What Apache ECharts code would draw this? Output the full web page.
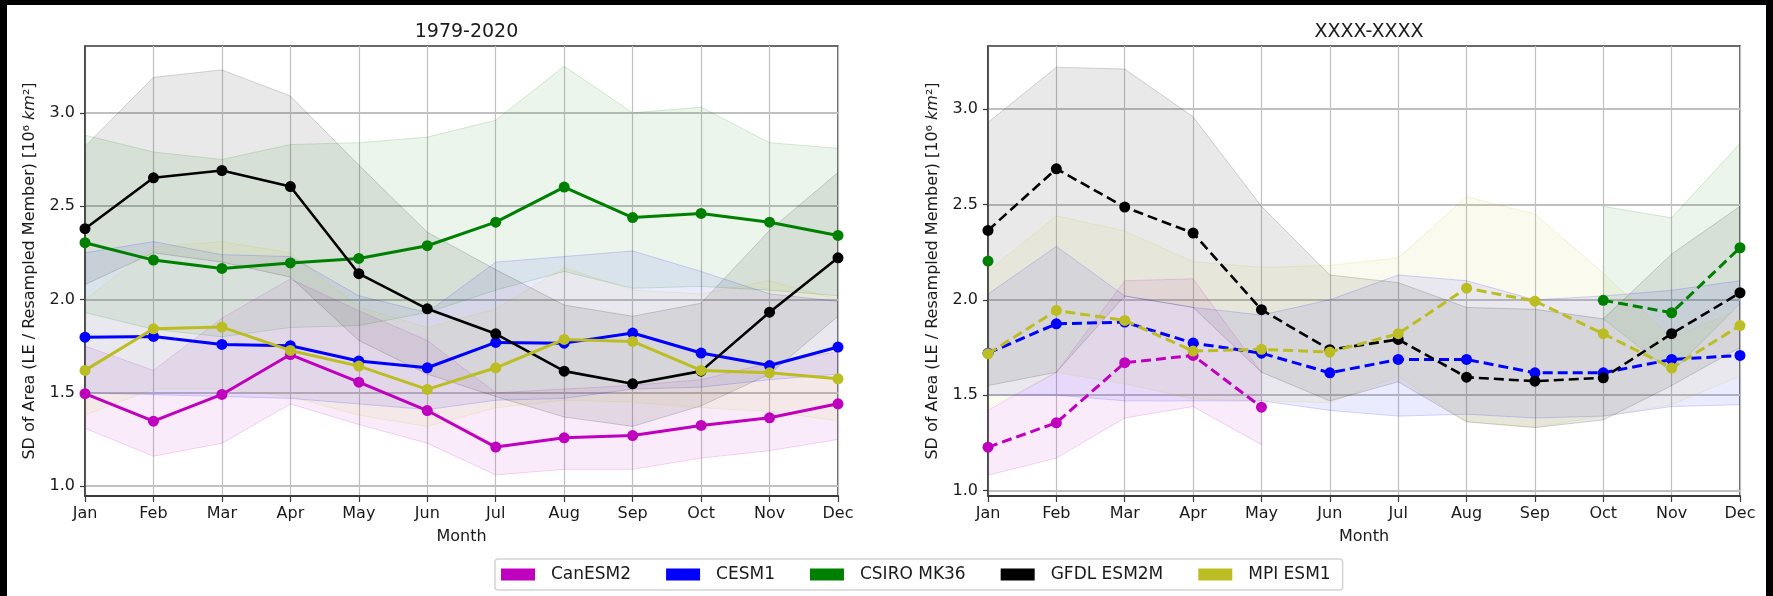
<!DOCTYPE html>
<html><head><meta charset="utf-8">
<script src="https://cdn.jsdelivr.net/npm/echarts@6/dist/echarts.min.js"></script>
<style>
html,body{margin:0;padding:0;background:#000;}
#wrap{position:relative;width:1773px;height:596px;background:#000;overflow:hidden;}
#paper{position:absolute;left:7px;top:5px;width:1759px;height:591px;background:#fff;}
#c{position:absolute;left:0;top:0;width:1773px;height:596px;}
</style>
</head><body>
<div id="wrap"><div id="paper"></div><div id="c"></div></div>
<script>
const months = ['Jan','Feb','Mar','Apr','May','Jun','Jul','Aug','Sep','Oct','Nov','Dec'];
const yTicks = [1.0, 1.5, 2.0, 2.5, 3.0];
const models = ['CanESM2','CESM1','CSIRO MK36','GFDL ESM2M','MPI ESM1'];
const colors = ['#bf00bf','#0000ff','#008000','#000000','#bcbd22'];
const titles = ['1979-2020','XXXX-XXXX'];

// ---- Left panel (1979-2020) ----
const canL     = [1.495, 1.348, 1.491, 1.705, 1.557, 1.405, 1.209, 1.259, 1.271, 1.325, 1.366, 1.441];
const canLlow  = [1.31, 1.16, 1.23, 1.44, 1.33, 1.23, 1.06, 1.09, 1.09, 1.15, 1.19, 1.25];
const canLhigh = [1.75, 1.62, 1.90, 2.11, 1.94, 1.78, 1.50, 1.52, 1.54, 1.57, 1.66, 1.72];

const cesmL     = [1.798, 1.802, 1.759, 1.752, 1.670, 1.634, 1.770, 1.766, 1.820, 1.713, 1.646, 1.745];
const cesmLlow  = [1.50, 1.49, 1.48, 1.47, 1.44, 1.41, 1.46, 1.47, 1.52, 1.53, 1.57, 1.60];
const cesmLhigh = [2.25, 2.31, 2.24, 2.23, 2.02, 1.93, 2.20, 2.23, 2.26, 2.15, 2.03, 1.99];

const csiroL     = [2.304, 2.211, 2.166, 2.196, 2.220, 2.288, 2.414, 2.602, 2.439, 2.461, 2.414, 2.343];
const csiroLlow  = [1.93, 1.84, 1.80, 1.85, 1.86, 1.93, 2.05, 2.15, 2.06, 2.07, 2.05, 2.02];
const csiroLhigh = [2.88, 2.79, 2.75, 2.83, 2.84, 2.87, 2.96, 3.25, 3.00, 3.03, 2.84, 2.81];

const gfdlL     = [2.379, 2.652, 2.691, 2.605, 2.138, 1.950, 1.816, 1.616, 1.548, 1.616, 1.932, 2.223];
const gfdlLlow  = [2.08, 2.25, 2.20, 2.12, 1.78, 1.60, 1.48, 1.37, 1.32, 1.43, 1.60, 1.91];
const gfdlLhigh = [2.82, 3.19, 3.23, 3.09, 2.72, 2.36, 2.16, 1.97, 1.91, 1.98, 2.37, 2.68];

const mpiL     = [1.620, 1.843, 1.852, 1.727, 1.643, 1.518, 1.634, 1.786, 1.775, 1.620, 1.607, 1.575];
const mpiLlow  = [1.38, 1.52, 1.52, 1.48, 1.38, 1.32, 1.42, 1.46, 1.45, 1.42, 1.40, 1.35];
const mpiLhigh = [2.00, 2.28, 2.31, 2.25, 1.96, 1.85, 1.95, 2.17, 2.05, 2.03, 2.10, 2.00];

// ---- Right panel (XXXX-XXXX) ----
const canR     = [1.227, 1.355, 1.670, 1.708, 1.437, null, null, null, null, null, null, null];
const canRlow  = [1.08, 1.17, 1.38, 1.44, 1.24, null, null, null, null, null, null, null];
const canRhigh = [1.42, 1.62, 2.10, 2.11, 1.62, null, null, null, null, null, null, null];

const cesmR     = [1.720, 1.874, 1.883, 1.773, 1.720, 1.617, 1.687, 1.687, 1.617, 1.617, 1.687, 1.708];
const cesmRlow  = [1.50, 1.50, 1.47, 1.47, 1.47, 1.42, 1.39, 1.40, 1.38, 1.39, 1.44, 1.45];
const cesmRhigh = [2.03, 2.28, 2.02, 1.96, 1.92, 2.00, 2.13, 2.10, 2.00, 2.02, 2.05, 2.10];

const csiroR     = [2.203, null, null, null, null, null, null, null, null, 1.997, 1.932, 2.273];
const csiroRlow  = [null, null, null, null, null, null, null, null, null, 1.90, 1.62, 1.98];
const csiroRhigh = [null, null, null, null, null, null, null, null, null, 2.49, 2.43, 2.82];

const gfdlR     = [2.364, 2.687, 2.486, 2.350, 1.948, 1.738, 1.792, 1.594, 1.573, 1.591, 1.822, 2.037];
const gfdlRlow  = [1.55, 1.62, 2.02, 1.96, 1.62, 1.47, 1.57, 1.36, 1.33, 1.37, 1.55, 1.75];
const gfdlRhigh = [2.93, 3.22, 3.21, 2.96, 2.49, 2.13, 2.09, 1.96, 1.95, 1.90, 2.24, 2.49];

const mpiR     = [1.717, 1.944, 1.892, 1.731, 1.740, 1.726, 1.822, 2.061, 1.993, 1.822, 1.642, 1.865];
const mpiRlow  = [1.43, 1.62, 1.56, 1.48, 1.47, 1.46, 1.60, 1.36, 1.33, 1.39, 1.45, 1.60];
const mpiRhigh = [2.15, 2.44, 2.36, 2.20, 2.17, 2.18, 2.22, 2.54, 2.45, 2.14, 1.80, 1.95];

const panels = [
  {lines:[canL,cesmL,csiroL,gfdlL,mpiL], lows:[canLlow,cesmLlow,csiroLlow,gfdlLlow,mpiLlow], highs:[canLhigh,cesmLhigh,csiroLhigh,gfdlLhigh,mpiLhigh], dashed:false, yMin:0.947, yMax:3.358},
  {lines:[canR,cesmR,csiroR,gfdlR,mpiR], lows:[canRlow,cesmRlow,csiroRlow,gfdlRlow,mpiRlow], highs:[canRhigh,cesmRhigh,csiroRhigh,gfdlRhigh,mpiRhigh], dashed:true, yMin:0.971, yMax:3.331}
];

const FONT = 'DejaVu Sans';
const gridPos = [{left:85, width:753}, {left:988, width:752}];

function hexA(hex, a){
  const r=parseInt(hex.slice(1,3),16), g=parseInt(hex.slice(3,5),16), b=parseInt(hex.slice(5,7),16);
  return `rgba(${r},${g},${b},${a})`;
}

const grids=[], xAxes=[], yAxes=[], series=[], titleArr=[];
panels.forEach((p, pi) => {
  grids.push({left:gridPos[pi].left, width:gridPos[pi].width, top:46, bottom:100, show:true, borderColor:'#3a3a3a', borderWidth:1.5, backgroundColor:'transparent', containLabel:false});
  titleArr.push({text:titles[pi], left:gridPos[pi].left + gridPos[pi].width/2, top:18, textAlign:'center',
    textStyle:{fontFamily:FONT, fontSize:19, fontWeight:'normal', color:'#1a1a1a'}});
  xAxes.push({type:'category', gridIndex:pi, data:months, boundaryGap:false,
    name:'Month', nameLocation:'middle', nameGap:33,
    nameTextStyle:{fontFamily:FONT, fontSize:16, color:'#1a1a1a'},
    axisLine:{lineStyle:{color:'#3a3a3a', width:2}},
    axisTick:{show:true, length:6, lineStyle:{color:'#3a3a3a', width:1.2}},
    axisLabel:{fontFamily:FONT, fontSize:16, color:'#1a1a1a', margin:10, interval:0},
    splitLine:{show:true, lineStyle:{color:'#c0c0c0', width:1.2}}
  });
  yAxes.push({type:'value', gridIndex:pi, min:p.yMin, max:p.yMax,
    name:'{a|SD of Area (LE / Resampled Member) [10⁶ }{i|km}{a|²]}', nameLocation:'middle', nameGap:47, nameRotate:90,
    nameTextStyle:{fontFamily:FONT, fontSize:16, color:'#1a1a1a',
      rich:{a:{fontFamily:FONT, fontSize:16, color:'#1a1a1a'}, i:{fontFamily:FONT, fontSize:16, fontStyle:'italic', color:'#1a1a1a'}}},
    axisLine:{show:true, lineStyle:{color:'#3a3a3a', width:1.5}},
    axisTick:{show:true, length:5, customValues:yTicks, lineStyle:{color:'#3a3a3a', width:1.2}},
    axisLabel:{fontFamily:FONT, fontSize:16, color:'#1a1a1a', margin:10, customValues:yTicks, formatter:v=>Number(v).toFixed(1)},
    splitLine:{show:true, lineStyle:{color:'#c0c0c0', width:2}}
  });
  // bands (min/max envelopes)
  models.forEach((m, mi) => {
    const low = p.lows[mi], high = p.highs[mi];
    const diff = low.map((v, k) => (v == null || high[k] == null) ? null : +(high[k] - v).toFixed(4));
    const stackName = 'band' + pi + '_' + mi;
    series.push({type:'line', name:'band', xAxisIndex:pi, yAxisIndex:pi, data:low, stack:stackName,
      symbol:'none', silent:true, z:1, lineStyle:{color:hexA(colors[mi],0.16), width:1}, animation:false});
    series.push({type:'line', name:'band', xAxisIndex:pi, yAxisIndex:pi, data:diff, stack:stackName,
      symbol:'none', silent:true, z:1, lineStyle:{color:hexA(colors[mi],0.16), width:1},
      areaStyle:{color:hexA(colors[mi], mi===3 ? 0.12 : 0.11)}, animation:false});
  });
});
panels.forEach((p, pi) => {
  models.forEach((m, mi) => {
    series.push({type:'line', name:m, xAxisIndex:pi, yAxisIndex:pi, data:p.lines[mi],
      symbol:'circle', symbolSize:11, showSymbol:true, showAllSymbol:true, z:3 + mi, connectNulls:false,
      itemStyle:{color:colors[mi]},
      lineStyle:{color:colors[mi], width: mi===3 ? 2.6 : 3, type: p.dashed ? [10,5] : 'solid'},
      animation:false});
  });
});

const chart = echarts.init(document.getElementById('c'), null, {renderer:'canvas'});
chart.setOption({
  backgroundColor:'transparent',
  animation:false,
  title:titleArr,
  grid:grids, xAxis:xAxes, yAxis:yAxes, series:series,
  legend:{data:models.map((m,i)=>({name:m, icon:'rect', itemStyle:{color:colors[i]}})),
    left:495, top:559, orient:'horizontal', itemWidth:34, itemHeight:12, itemGap:35,
    padding:[7,12,7,6], borderColor:'#d4d4d4', borderWidth:1.5, borderRadius:3, backgroundColor:'#fff',
    selectedMode:false,
    textStyle:{fontFamily:FONT, fontSize:17, color:'#1a1a1a', padding:[0,0,0,11]}}
});
</script>
</body></html>
